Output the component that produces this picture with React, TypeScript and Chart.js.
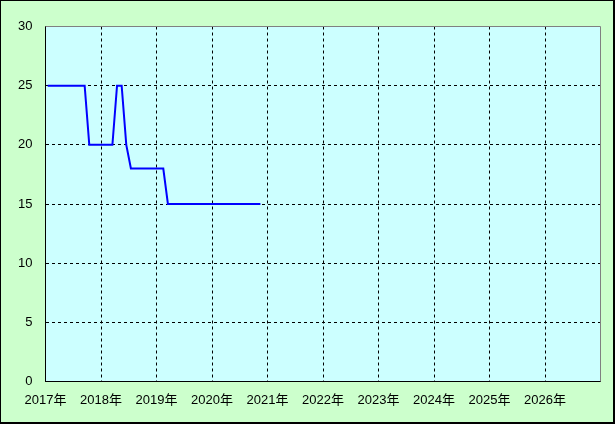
import React, { useEffect, useRef } from "react";
import { Chart, registerables } from "chart.js";

Chart.register(...registerables);

// Change points of the series (date, value)
const dates = [
  "2017-01-15",
  "2017-09-15",
  "2017-10-15",
  "2018-03-15",
  "2018-04-15",
  "2018-05-15",
  "2018-06-15",
  "2018-07-15",
  "2019-02-15",
  "2019-03-15",
  "2020-11-15",
];
const rates = [25, 25, 20, 20, 25, 25, 20, 18, 18, 15, 15];

const yearTicks = [2017, 2018, 2019, 2020, 2021, 2022, 2023, 2024, 2025, 2026, 2027];
const yearLabels = ["2017年", "2018年", "2019年", "2020年", "2021年", "2022年", "2023年", "2024年", "2025年", "2026年", ""];
const yTicks = [0, 5, 10, 15, 20, 25, 30];

function toYear(d: string): number {
  const [y, m, day] = d.split("-").map(Number);
  return y + (m - 1 + (day - 1) / 30) / 12;
}

const FONT = { family: "'Liberation Sans', 'Noto Sans CJK JP', sans-serif", size: 13 };

const bgPlugin = {
  id: "bgPlugin",
  beforeDraw(chart: any) {
    const { ctx, chartArea, width, height } = chart;
    ctx.save();
    ctx.fillStyle = "#ccffcc";
    ctx.fillRect(0, 0, width, height);
    ctx.fillStyle = "#ccffff";
    ctx.fillRect(chartArea.left, chartArea.top, chartArea.right - chartArea.left, chartArea.bottom - chartArea.top);
    ctx.restore();
  },
  afterDraw(chart: any) {
    const { ctx, chartArea, width, height } = chart;
    ctx.save();
    ctx.strokeStyle = "#808080";
    ctx.lineWidth = 1;
    const t = Math.floor(chartArea.top) + 0.5;
    const r = Math.floor(chartArea.right) + 0.5;
    ctx.beginPath();
    ctx.moveTo(chartArea.left, t);
    ctx.lineTo(r, t);
    ctx.lineTo(r, chartArea.bottom);
    ctx.stroke();
    // outer frame
    ctx.fillStyle = "#000";
    ctx.fillRect(0, 0, width, 1);
    ctx.fillRect(0, 0, 1, height);
    ctx.fillRect(width - 2, 0, 2, height);
    ctx.fillRect(0, height - 2, width, 2);
    ctx.restore();
  },
};

export default function App() {
  const ref = useRef<HTMLCanvasElement | null>(null);

  useEffect(() => {
    if (!ref.current) return;
    const data = dates.map((d, i) => ({ x: toYear(d), y: rates[i] }));
    const chart = new Chart(ref.current, {
      type: "line",
      data: {
        datasets: [
          {
            data,
            borderColor: "#0000ff",
            borderWidth: 2,
            pointRadius: 0,
            fill: false,
            tension: 0,
          },
        ],
      },
      options: {
        animation: false,
        responsive: false,
        devicePixelRatio: 1,
        layout: { padding: { left: 0, top: 26.5, right: 14.5, bottom: 0 } },
        plugins: { legend: { display: false }, tooltip: { enabled: false } },
        scales: {
          x: {
            type: "linear",
            min: 2017,
            max: 2027,
            afterBuildTicks: (scale: any) => {
              scale.ticks = yearTicks.map((v) => ({ value: v }));
            },
            afterFit: (scale: any) => {
              scale.height = 42.5;
            },
            ticks: {
              autoSkip: false,
              maxRotation: 0,
              padding: 11,
              color: "#000",
              font: FONT,
              callback: (v: any) => {
                const i = yearTicks.indexOf(Number(v));
                return i >= 0 ? yearLabels[i] : "";
              },
            },
            grid: {
              drawTicks: false,
              lineWidth: 1,
              color: (ctx: any) =>
                ctx.tick && (ctx.tick.value === 2017 || ctx.tick.value === 2027) ? "rgba(0,0,0,0)" : "#000",
            },
            border: { display: true, color: "#000", width: 1, dash: [3, 3] },
          },
          y: {
            min: 0,
            max: 30,
            afterBuildTicks: (scale: any) => {
              scale.ticks = yTicks.map((v) => ({ value: v }));
            },
            afterFit: (scale: any) => {
              scale.width = 45.5;
            },
            ticks: {
              padding: 13,
              color: "#000",
              font: FONT,
            },
            grid: {
              drawTicks: false,
              lineWidth: 1,
              color: (ctx: any) =>
                ctx.tick && (ctx.tick.value === 0 || ctx.tick.value === 30) ? "rgba(0,0,0,0)" : "#000",
            },
            border: { display: true, color: "#000", width: 1, dash: [3, 3] },
          },
        },
      },
      plugins: [bgPlugin],
    } as any);
    return () => chart.destroy();
  }, []);

  return (
    <div style={{ position: "fixed", left: 0, top: 0, width: 615, height: 424 }}>
      <canvas ref={ref} width={615} height={424} style={{ width: 615, height: 424, display: "block" }} />
    </div>
  );
}
